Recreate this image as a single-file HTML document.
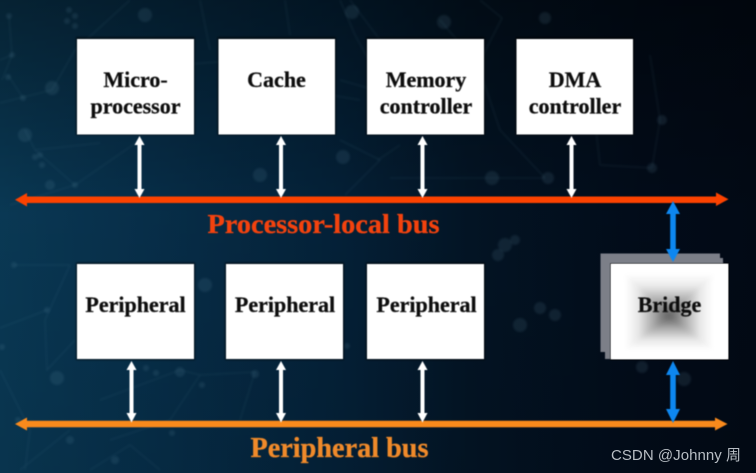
<!DOCTYPE html>
<html><head><meta charset="utf-8">
<style>
html,body{margin:0;padding:0;background:#020c1a;}
svg{display:block;}
text{font-family:"Liberation Serif",serif;font-weight:bold;}
</style></head>
<body>
<svg width="756" height="473" viewBox="0 0 756 473" xmlns="http://www.w3.org/2000/svg">
<defs>
<linearGradient id="bg" x1="0" y1="0" x2="1" y2="0">
<stop offset="0" stop-color="#0a3b58"/>
<stop offset="0.2" stop-color="#07304c"/>
<stop offset="0.45" stop-color="#04223a"/>
<stop offset="0.62" stop-color="#031526"/>
<stop offset="0.85" stop-color="#020c1a"/>
<stop offset="1" stop-color="#020a16"/>
</linearGradient>
<linearGradient id="bg2" x1="0" y1="0" x2="0" y2="1">
<stop offset="0" stop-color="#000" stop-opacity="0.42"/>
<stop offset="0.45" stop-color="#000" stop-opacity="0.05"/>
<stop offset="1" stop-color="#000" stop-opacity="0.12"/>
</linearGradient>
<linearGradient id="t1" gradientUnits="userSpaceOnUse" x1="0" y1="316" x2="0" y2="274"><stop offset="0" stop-color="#5c5c5c"/><stop offset="0.35" stop-color="#a8a8a8"/><stop offset="0.7" stop-color="#e8e8e8"/><stop offset="1" stop-color="#fff"/></linearGradient>
<linearGradient id="t2" gradientUnits="userSpaceOnUse" x1="0" y1="316" x2="0" y2="350"><stop offset="0" stop-color="#5c5c5c"/><stop offset="0.35" stop-color="#a8a8a8"/><stop offset="0.7" stop-color="#e8e8e8"/><stop offset="1" stop-color="#fff"/></linearGradient>
<linearGradient id="t3" gradientUnits="userSpaceOnUse" x1="669" y1="0" x2="625" y2="0"><stop offset="0" stop-color="#5c5c5c"/><stop offset="0.35" stop-color="#a8a8a8"/><stop offset="0.7" stop-color="#e8e8e8"/><stop offset="1" stop-color="#fff"/></linearGradient>
<linearGradient id="t4" gradientUnits="userSpaceOnUse" x1="669" y1="0" x2="713" y2="0"><stop offset="0" stop-color="#5c5c5c"/><stop offset="0.35" stop-color="#a8a8a8"/><stop offset="0.7" stop-color="#e8e8e8"/><stop offset="1" stop-color="#fff"/></linearGradient>
<clipPath id="bc"><rect x="611" y="264" width="117" height="95"/></clipPath>
<filter id="s"><feGaussianBlur stdDeviation="0.45"/></filter>
<filter id="s2"><feGaussianBlur stdDeviation="1"/></filter>
<filter id="s3"><feGaussianBlur stdDeviation="2.2"/></filter>
</defs>
<rect width="756" height="473" fill="url(#bg)"/>
<rect width="756" height="473" fill="url(#bg2)"/>
<g filter="url(#s2)" stroke="#5d8ba3" stroke-opacity="0.14" fill="none" stroke-width="1">
<path d="M9 16L12 55L2 80M8 75L23 98M0 103L52 90L75 50L130 0M25 130L35 150L75 185M75 185L140 140M75 185L10 205M35 150L100 143"/>
<path d="M200 0L210 50M285 0L290 35M340 0L355 35L380 80M350 0L380 40M340 80L410 100M340 140L380 160L345 195"/>
<path d="M15 265L70 265M70 265L45 320L47 370L75 340M0 328L47 310M0 370L30 430L25 470M100 400L180 370L200 375L255 372M200 375L170 420L110 440M255 372L240 420M70 430L20 470"/>
<path d="M440 20L478 65L502 18L480 0M478 65L500 130L545 178M478 65L470 110M390 178L545 178M400 145L378 160M652 168L600 165M652 168L660 120L650 55M600 165L595 120"/>
<path d="M0 60L12 55M120 70L240 60M300 90L360 100M90 470L130 445L160 470"/>
</g>
<g filter="url(#s2)" fill="#6d9bb2" fill-opacity="0.13">
<circle cx="9" cy="16" r="3"/><circle cx="12" cy="55" r="3"/><circle cx="8" cy="77" r="3"/><circle cx="23" cy="98" r="3"/><circle cx="52" cy="88" r="7"/>
<circle cx="69" cy="10" r="3"/><circle cx="75" cy="16" r="3"/><circle cx="67" cy="21" r="3"/><circle cx="75" cy="26" r="3"/>
<circle cx="25" cy="135" r="7"/><circle cx="40" cy="155" r="3"/><circle cx="35" cy="157" r="3"/><circle cx="42" cy="165" r="3"/><circle cx="50" cy="185" r="5"/><circle cx="75" cy="185" r="3"/>
<circle cx="260" cy="175" r="7"/><circle cx="343" cy="157" r="7"/><circle cx="352" cy="12" r="7"/><circle cx="145" cy="15" r="7"/>
<circle cx="478" cy="87" r="6"/><circle cx="444" cy="22" r="7"/><circle cx="545" cy="18" r="6"/><circle cx="492" cy="178" r="7"/><circle cx="548" cy="178" r="6"/><circle cx="652" cy="168" r="5"/><circle cx="600" cy="55" r="6"/><circle cx="662" cy="120" r="5"/>
<circle cx="14" cy="265" r="3"/><circle cx="47" cy="310" r="3"/><circle cx="57" cy="378" r="7"/><circle cx="2" cy="347" r="3"/><circle cx="146" cy="368" r="3"/><circle cx="156" cy="373" r="3"/><circle cx="180" cy="372" r="5"/><circle cx="255" cy="374" r="4"/><circle cx="202" cy="385" r="3"/><circle cx="205" cy="285" r="7"/><circle cx="347" cy="346" r="3"/>
<circle cx="520" cy="325" r="7"/><circle cx="540" cy="308" r="6"/><circle cx="555" cy="315" r="6"/><circle cx="505" cy="245" r="7"/><circle cx="498" cy="255" r="6"/><circle cx="515" cy="240" r="5"/>
<circle cx="642" cy="367" r="6"/><circle cx="684" cy="379" r="7"/><circle cx="18" cy="420" r="3"/><circle cx="70" cy="440" r="4"/><circle cx="115" cy="460" r="4"/><circle cx="172" cy="433" r="3"/>
</g>

<g fill="#000" fill-opacity="0.55" filter="url(#s2)">
<rect x="76" y="37" width="119" height="98"/><rect x="217.500" y="37" width="118.500" height="98"/><rect x="366" y="37" width="119" height="98"/><rect x="515.500" y="37" width="118.500" height="98"/>
<rect x="76" y="262.500" width="119" height="97.500"/><rect x="225" y="262.500" width="119" height="97.500"/><rect x="366" y="262.500" width="119" height="97.500"/>
</g>
<g fill="#fff" filter="url(#s)">
<rect x="77" y="39" width="117" height="95.500"/><rect x="218.500" y="39" width="116.500" height="95.500"/><rect x="367" y="39" width="117" height="95.500"/><rect x="516.500" y="39" width="116.500" height="95.500"/>
<rect x="77" y="264" width="117" height="95"/><rect x="226" y="264" width="117" height="95"/><rect x="367" y="264" width="117" height="95"/>
</g>

<g filter="url(#s)">
<path d="M600.500 253.500H720V258H723V264H610V359H605V352H600.500Z" fill="#7b7f88"/>
<rect x="610" y="263" width="119" height="97" fill="#111"/>
<rect x="611" y="264" width="117" height="95" fill="#fff"/>
</g>
<g clip-path="url(#bc)"><g filter="url(#s3)">
<path d="M611 264H728L669 316Z" fill="url(#t1)"/>
<path d="M611 359H728L669 316Z" fill="url(#t2)"/>
<path d="M611 264V359L669 316Z" fill="url(#t3)"/>
<path d="M728 264V359L669 316Z" fill="url(#t4)"/>
</g></g>

<g filter="url(#s)">
<path d="M15 199.800L27 193V196.500H716V192.500L728.500 199.300L716 206V203H27V206.500Z" fill="#fc4306"/>
<path d="M15 424L27 417.500V420.800H715V417.500L727.500 424L715 430.500V427.300H27V430.500Z" fill="#f98a1f"/>
</g>

<g fill="#fff" filter="url(#s)">
<path d="M139.500 136L144.500 145H141.500V189H144.500L139.500 198L134.500 189H137.500V145H134.500Z"/>
<path d="M281 136L286 145H283V189H286L281 198L276 189H279V145H276Z"/>
<path d="M422.500 136L427.500 145H424.500V189H427.500L422.500 198L417.500 189H420.500V145H417.500Z"/>
<path d="M571.500 136L576.500 145H573.500V189H576.500L571.500 198L566.500 189H569.500V145H566.500Z"/>
<path d="M131.500 361L136.500 370H133.500V413H136.500L131.500 422.500L126.500 413H129.500V370H126.500Z"/>
<path d="M281 361L286 370H283V413H286L281 422.500L276 413H279V370H276Z"/>
<path d="M422.500 361L427.500 370H424.500V413H427.500L422.500 422.500L417.500 413H420.500V370H417.500Z"/>
</g>

<g fill="#0a87f0" filter="url(#s)">
<path d="M673 201L680 214H675.800V249H680L673 262L666 249H670.200V214H666Z"/>
<path d="M673 361L680 375H675.800V409H680L673 423L666 409H670.200V375H666Z"/>
</g>

<g fill="#101010" stroke="#101010" stroke-width="0.25" font-size="22" text-anchor="middle" filter="url(#s)">
<text x="135.500" y="87">Micro-</text>
<text x="135.500" y="113.500">processor</text>
<text x="276.500" y="87">Cache</text>
<text x="426" y="87">Memory</text>
<text x="426" y="113.500">controller</text>
<text x="575" y="87">DMA</text>
<text x="575" y="113.500">controller</text>
<text x="135.500" y="312">Peripheral</text>
<text x="285" y="312">Peripheral</text>
<text x="426.500" y="312">Peripheral</text>
<text x="669.500" y="312">Bridge</text>
</g>
<text x="207.500" y="233" font-size="27" fill="#f4430e" stroke="#f4430e" stroke-width="0.3" textLength="232" lengthAdjust="spacingAndGlyphs" filter="url(#s)">Processor-local bus</text>
<text x="250.500" y="457" font-size="28" fill="#f08a2a" stroke="#f08a2a" stroke-width="0.3" textLength="178" lengthAdjust="spacingAndGlyphs" filter="url(#s)">Peripheral bus</text>
<text x="611" y="460" font-size="15" fill="#b8bec4" style='font-family:"Liberation Sans","Noto Sans CJK SC",sans-serif;font-weight:normal' textLength="130" lengthAdjust="spacing">CSDN @Johnny 周</text>
</svg>
</body></html>
